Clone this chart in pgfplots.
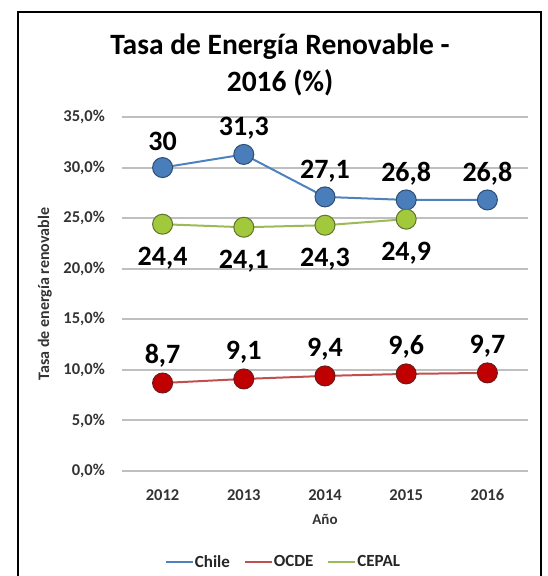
\documentclass[border=0pt]{standalone}
\usepackage{pgfplots}
\pgfplotsset{compat=1.18}
\usepackage{fontspec}
\setmainfont{Carlito}
\definecolor{chileline}{HTML}{4F81BD}
\definecolor{chilemark}{HTML}{4A7EBB}
\definecolor{chileedge}{HTML}{2C4D75}
\definecolor{ocdeline}{HTML}{C0504D}
\definecolor{ocdemark}{HTML}{C00000}
\definecolor{ocdeedge}{HTML}{6E1A1A}
\definecolor{cepalline}{HTML}{9BBB59}
\definecolor{cepalmark}{HTML}{A2C83C}
\definecolor{cepaledge}{HTML}{5E7530}
\definecolor{gridgray}{HTML}{BFBFBF}
\begin{document}
\begin{tikzpicture}
\path[use as bounding box] (-122pt,-105pt) rectangle (425pt,471pt);
\draw[line width=1.5pt] (-104pt,-110pt) -- (-104pt,459pt) -- (419pt,459pt) -- (419pt,-110pt);
\node[font=\bfseries\fontsize{29.5}{37}\selectfont, align=center] at (158pt,406pt) {Tasa de Energía Renovable -\\2016 (\%)};
\begin{axis}[
  at={(0pt,0pt)}, anchor=south west,
  scale only axis, width=406pt, height=354pt,
  xmin=-0.5, xmax=4.5, ymin=0, ymax=35,
  xtick={0,...,4}, xticklabels={2012,2013,2014,2015,2016},
  ytick={0,5,...,35},
  /pgf/number format/assume math mode=true,
  yticklabel={\pgfmathprintnumber[fixed,fixed zerofill,precision=1,use comma]{\tick}\%},
  axis line style={draw=none},
  major tick length=0pt,
  ymajorgrids, major grid style={color=gridgray, line width=2pt},
  ticklabel style={font=\bfseries\fontsize{16.5}{16.5}\selectfont, text=black!80},
  xticklabel style={anchor=center, yshift=-24pt},
  yticklabel style={anchor=east, inner sep=0pt, xshift=-17pt},
  xlabel={Año}, ylabel={Tasa de energía renovable},
  every axis x label/.style={at={(axis description cs:0.5,-0.1356)}, anchor=center, font=\bfseries\fontsize{15}{15}\selectfont, text=black!80},
  every axis y label/.style={at={(axis description cs:-0.1897,0.5)}, rotate=90, anchor=center, font=\bfseries\fontsize{16}{16}\selectfont, text=black!80},
  legend columns=3,
  legend style={at={(axis description cs:0.3966,-0.2571)}, anchor=center, draw=none, fill=none,
    font=\bfseries\fontsize{17}{17}\selectfont, text=black!85,
    /tikz/every even column/.append style={column sep=13pt},
    nodes={inner sep=1pt}},
  legend image code/.code={\draw[mark repeat=2,mark phase=2,#1] (0pt,0pt) -- (27pt,0pt);},
  point meta=explicit symbolic,
  nodes near coords,
  every node near coord/.append style={font=\bfseries\fontsize{28}{28}\selectfont, text=black, anchor=center},
  clip=false,
]
\addplot[color=chileline, line width=2pt, mark=*, mark size=10pt,
  mark options={fill=chilemark, draw=chileedge, line width=1pt},
  every node near coord/.append style={yshift=26pt}]
  coordinates {(0,30.0) [30] (1,31.3) [{31,3}] (2,27.1) [{27,1}] (3,26.8) [{26,8}] (4,26.8) [{26,8}]};
\addlegendentry{Chile}
\addplot[color=ocdeline, line width=2pt, mark=*, mark size=10pt,
  mark options={fill=ocdemark, draw=ocdeedge, line width=1pt},
  every node near coord/.append style={yshift=27pt}]
  coordinates {(0,8.7) [{8,7}] (1,9.1) [{9,1}] (2,9.4) [{9,4}] (3,9.6) [{9,6}] (4,9.7) [{9,7}]};
\addlegendentry{OCDE}
\addplot[color=cepalline, line width=2pt, mark=*, mark size=10pt,
  mark options={fill=cepalmark, draw=cepaledge, line width=1pt},
  every node near coord/.append style={yshift=-34pt}]
  coordinates {(0,24.4) [{24,4}] (1,24.1) [{24,1}] (2,24.3) [{24,3}] (3,24.9) [{24,9}]};
\addlegendentry{CEPAL}
\end{axis}
\end{tikzpicture}
\end{document}
